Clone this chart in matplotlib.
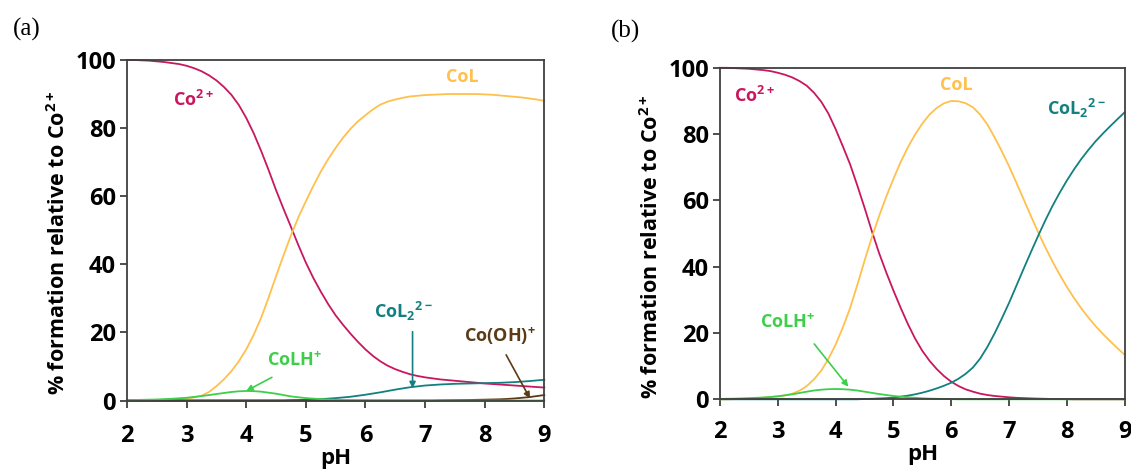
import numpy as np
import matplotlib.pyplot as plt

plt.rcParams['font.family'] = ['Open Sans', 'DejaVu Sans']
plt.rcParams['font.weight'] = 'bold'
plt.rcParams['mathtext.fontset'] = 'custom'
plt.rcParams['mathtext.rm'] = 'Open Sans:bold'
plt.rcParams['mathtext.it'] = 'Open Sans:bold'
plt.rcParams['mathtext.bf'] = 'Open Sans:bold'

# pH values
ph = [2.0, 2.125, 2.25, 2.375, 2.5, 2.625, 2.75, 2.875, 3.0, 3.125, 3.25, 3.375, 3.5, 3.625,
      3.75, 3.875, 4.0, 4.125, 4.25, 4.375, 4.5, 4.625, 4.75, 4.875, 5.0, 5.125, 5.25, 5.375,
      5.5, 5.625, 5.75, 5.875, 6.0, 6.125, 6.25, 6.375, 6.5, 6.625, 6.75, 6.875, 7.0, 7.125,
      7.25, 7.375, 7.5, 7.625, 7.75, 7.875, 8.0, 8.125, 8.25, 8.375, 8.5, 8.625, 8.75, 8.875, 9.0]

# panel (a)
a_co = [100, 100, 99.9, 99.8, 99.6, 99.4, 99.1, 98.8, 98.3, 97.6, 96.7, 95.5, 94.0, 92.1,
        89.8, 86.8, 83.0, 78.5, 73.3, 67.7, 61.8, 56.3, 51.0, 45.6, 40.5, 36.0, 32.0, 28.3,
        25.0, 22.2, 19.6, 17.2, 15.0, 13.1, 11.5, 10.2, 9.2, 8.4, 7.7, 7.2, 6.8, 6.5,
        6.2, 6.0, 5.8, 5.6, 5.4, 5.2, 5.0, 4.85, 4.7, 4.55, 4.4, 4.25, 4.1, 3.95, 3.8]
a_col = [0, 0, 0, 0.05, 0.1, 0.2, 0.3, 0.45, 0.6, 0.9, 1.4, 2.5, 4.2, 6.2,
         8.6, 11.5, 15.0, 19.3, 24.3, 30.2, 36.5, 42.6, 48.5, 53.8, 58.5, 63.0, 67.2, 70.9,
         74.2, 77.2, 79.8, 82.0, 83.8, 85.5, 86.9, 87.8, 88.4, 88.9, 89.3, 89.5, 89.7, 89.8,
         89.9, 90.0, 90.0, 90.0, 90.0, 90.0, 89.9, 89.8, 89.6, 89.4, 89.2, 89.0, 88.7, 88.4, 88.0]
a_colh = [0.1, 0.15, 0.2, 0.25, 0.3, 0.4, 0.5, 0.65, 0.8, 1.05, 1.3, 1.6, 1.9, 2.2,
          2.5, 2.7, 2.8, 2.75, 2.6, 2.3, 2.0, 1.6, 1.2, 0.95, 0.7, 0.55, 0.4, 0.3,
          0.2, 0.15, 0.1, 0.07, 0.05, 0, 0, 0, 0, 0, 0, 0, 0, 0,
          0, 0, 0, 0, 0, 0, 0, 0, 0, 0, 0, 0, 0, 0, 0]
a_col2 = [0, 0, 0, 0, 0, 0, 0, 0, 0, 0, 0, 0, 0, 0,
          0, 0, 0, 0, 0, 0, 0, 0, 0.1, 0.15, 0.2, 0.3, 0.4, 0.55,
          0.7, 0.9, 1.1, 1.4, 1.7, 2.05, 2.4, 2.8, 3.2, 3.55, 3.9, 4.15, 4.4, 4.55,
          4.7, 4.8, 4.9, 4.95, 5.0, 5.05, 5.1, 5.15, 5.2, 5.3, 5.4, 5.55, 5.7, 5.9, 6.1]
a_cooh = [0, 0, 0, 0, 0, 0, 0, 0, 0, 0, 0, 0, 0, 0,
          0, 0, 0, 0, 0, 0, 0, 0, 0, 0, 0, 0, 0, 0,
          0, 0, 0, 0, 0, 0, 0, 0, 0, 0, 0, 0, 0, 0,
          0.05, 0.07, 0.1, 0.12, 0.15, 0.2, 0.25, 0.3, 0.35, 0.45, 0.6, 0.8, 1.0, 1.3, 1.6]

# panel (b)
b_co = [100, 100, 99.9, 99.8, 99.7, 99.5, 99.3, 99.0, 98.5, 97.9, 97.1, 96.0, 94.6, 92.5,
        89.8, 86.2, 81.5, 76.3, 70.9, 64.5, 57.8, 50.8, 44.2, 38.3, 32.8, 27.6, 22.7, 18.3,
        14.6, 11.6, 9.1, 7.0, 5.3, 4.0, 3.0, 2.3, 1.7, 1.3, 1.0, 0.8, 0.6, 0.45,
        0.35, 0.27, 0.2, 0.15, 0.1, 0.07, 0.05, 0, 0, 0, 0, 0, 0, 0, 0]
b_col = [0, 0, 0.05, 0.1, 0.2, 0.3, 0.5, 0.7, 0.9, 1.2, 1.7, 2.6, 4.0, 6.0,
         8.6, 12.2, 16.5, 21.7, 27.5, 34.5, 41.8, 48.8, 55.2, 61.1, 66.5, 71.6, 76.0, 79.9,
         83.2, 85.9, 87.9, 89.3, 90.0, 89.9, 89.3, 88.1, 85.9, 82.9, 79.0, 74.8, 70.3, 65.4,
         60.4, 55.4, 50.5, 45.9, 41.6, 37.6, 33.9, 30.5, 27.4, 24.6, 22.0, 19.7, 17.5, 15.4, 13.4]
b_colh = [0.1, 0.15, 0.2, 0.27, 0.35, 0.45, 0.55, 0.7, 0.9, 1.2, 1.5, 1.9, 2.3, 2.65,
          2.9, 3.05, 3.1, 3.05, 2.9, 2.65, 2.3, 1.95, 1.6, 1.3, 1.0, 0.8, 0.6, 0.45,
          0.3, 0.2, 0.15, 0.1, 0.05, 0, 0, 0, 0, 0, 0, 0, 0, 0,
          0, 0, 0, 0, 0, 0, 0, 0, 0, 0, 0, 0, 0, 0, 0]
b_col2 = [0, 0, 0, 0, 0, 0, 0, 0, 0, 0, 0, 0, 0, 0,
          0, 0, 0, 0, 0, 0, 0.1, 0.15, 0.25, 0.35, 0.5, 0.8, 1.1, 1.5,
          2.0, 2.6, 3.3, 4.1, 5.0, 6.2, 7.7, 9.6, 12.3, 15.8, 19.9, 24.4, 29.1, 34.2,
          39.3, 44.3, 49.2, 53.9, 58.3, 62.3, 66.0, 69.4, 72.5, 75.3, 77.9, 80.2, 82.4, 84.5, 86.6]

c_co = '#C8175E'
c_col = '#FFC04D'
c_colh = '#3DCF4A'
c_col2 = '#138080'
c_cooh = '#5B3A16'

fig = plt.figure(figsize=(11.31, 4.72), dpi=100)
W, H = 1131, 472
ax1 = fig.add_axes([127 / W, 1 - 400.5 / H, (544.3 - 127) / W, (400.5 - 60) / H])
ax2 = fig.add_axes([720 / W, 1 - 399.3 / H, (1124.7 - 720) / W, (399.3 - 67.8) / H])

lw = 1.3
ax1.plot(ph, a_co, color=c_co, lw=lw, clip_on=False)
ax1.plot(ph, a_col, color=c_col, lw=lw, clip_on=False)
ax1.plot(ph, a_col2, color=c_col2, lw=lw, clip_on=False)
ax1.plot(ph, a_cooh, color=c_cooh, lw=lw, clip_on=False)
ax1.plot(ph, a_colh, color=c_colh, lw=lw, clip_on=False)

ax2.plot(ph, b_co, color=c_co, lw=lw, clip_on=False)
ax2.plot(ph, b_col, color=c_col, lw=lw, clip_on=False)
ax2.plot(ph, b_col2, color=c_col2, lw=lw, clip_on=False)
ax2.plot(ph, b_colh, color=c_colh, lw=lw, clip_on=False)

for ax, pad in ((ax1, 12), (ax2, 10)):
    ax.set_xlim(2, 9)
    ax.set_ylim(0, 100)
    ax.set_xticks(range(2, 10))
    ax.set_yticks(range(0, 101, 20))
    for s in ax.spines.values():
        s.set_color('#404040')
        s.set_linewidth(1.3)
    ax.tick_params(axis='x', direction='out', length=5, width=1.3, color='#404040',
                   labelsize=17, pad=pad)
    ax.tick_params(axis='y', direction='out', length=5, width=1.3, color='#404040',
                   labelsize=17, pad=3)
    ax.set_xlabel('pH', fontsize=16, fontweight='bold', labelpad=0)

fs = 13
# annotations panel (a)
ax1.text(3.11, 88.3, 'Co$^{2+}$', color=c_co, fontsize=fs, ha='center', va='center')
ax1.text(7.62, 95.1, 'CoL', color=c_col, fontsize=fs, ha='center', va='center')
ax1.text(4.82, 11.7, 'CoLH$^{+}$', color=c_colh, fontsize=fs, ha='center', va='center')
ax1.text(6.64, 26.1, 'CoL$_2$$^{2-}$', color=c_col2, fontsize=fs, ha='center', va='center')
ax1.text(8.26, 19.0, 'Co(OH)$^{+}$', color=c_cooh, fontsize=fs, ha='center', va='center')
ax1.annotate('', xy=(4.0, 2.8), xytext=(4.43, 6.8),
             arrowprops=dict(arrowstyle='-|>', color=c_colh, lw=1.2, mutation_scale=9,
                             shrinkA=0, shrinkB=0))
ax1.annotate('', xy=(6.79, 3.6), xytext=(6.79, 20.2),
             arrowprops=dict(arrowstyle='-|>', color=c_col2, lw=1.2, mutation_scale=9,
                             shrinkA=0, shrinkB=0))
ax1.annotate('', xy=(8.76, 0.6), xytext=(8.36, 13.4),
             arrowprops=dict(arrowstyle='-|>', color=c_cooh, lw=1.2, mutation_scale=9,
                             shrinkA=0, shrinkB=0))

# annotations panel (b)
ax2.text(2.59, 91.6, 'Co$^{2+}$', color=c_co, fontsize=fs, ha='center', va='center')
ax2.text(6.08, 94.8, 'CoL', color=c_col, fontsize=fs, ha='center', va='center')
ax2.text(8.16, 87.8, 'CoL$_2$$^{2-}$', color=c_col2, fontsize=fs, ha='center', va='center')
ax2.text(3.17, 23.2, 'CoLH$^{+}$', color=c_colh, fontsize=fs, ha='center', va='center')
ax2.annotate('', xy=(4.22, 3.8), xytext=(3.63, 16.7),
             arrowprops=dict(arrowstyle='-|>', color=c_colh, lw=1.2, mutation_scale=9,
                             shrinkA=0, shrinkB=0))

ylab = '% formation relative to Co$^{2+}$'
fig.text(59 / W, 1 - 243 / H, ylab, rotation=90, ha='center', va='center', fontsize=15.5)
fig.text(652 / W, 1 - 247 / H, ylab, rotation=90, ha='center', va='center', fontsize=15.5)

fig.text(27 / W, 1 - 29 / H, '(a)', family='Liberation Serif', fontweight='normal',
         fontsize=18, ha='center', va='center')
fig.text(626 / W, 1 - 31 / H, '(b)', family='Liberation Serif', fontweight='normal',
         fontsize=18, ha='center', va='center')

fig.savefig('out.png', dpi=100)
